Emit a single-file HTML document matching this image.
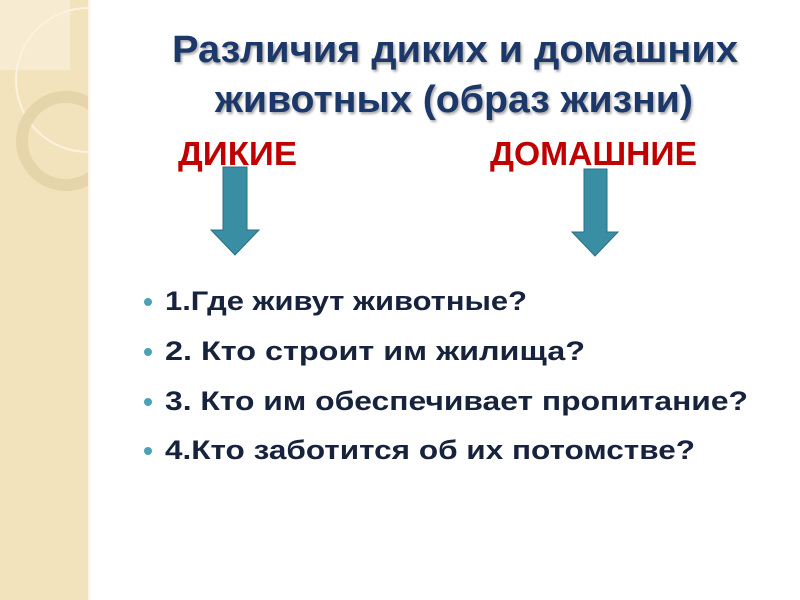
<!DOCTYPE html>
<html><head><meta charset="utf-8"><style>
html,body{margin:0;padding:0;background:#fff;}
svg{display:block;}
</style></head><body>
<svg width="800" height="600" viewBox="0 0 800 600" xmlns="http://www.w3.org/2000/svg" font-family="Liberation Sans, DejaVu Sans, sans-serif">
<defs>
<filter id="sh" x="-5%" y="-5%" width="110%" height="120%"><feDropShadow dx="1.5" dy="2" stdDeviation="1.2" flood-color="#000" flood-opacity="0.35"/></filter>
<clipPath id="cp"><rect x="0" y="0" width="88" height="600"/></clipPath>
</defs>
<rect x="0" y="0" width="88" height="600" fill="#f3e3bc"/>
<g clip-path="url(#cp)">
<rect x="0" y="0" width="70" height="70" fill="#f7ecd2"/>
<circle cx="88" cy="80" r="72" fill="none" stroke="#fbf3df" stroke-width="2"/>
<circle cx="66" cy="141" r="44" fill="none" stroke="#e6d5ab" stroke-width="12"/>
</g>
<rect x="88" y="0" width="2" height="600" fill="#fbf4e3"/>
<g font-weight="bold" fill="#1f3868" font-size="38" filter="url(#sh)">
<text x="172" y="62" textLength="566" lengthAdjust="spacingAndGlyphs">Различия диких и домашних</text>
<text x="215" y="112" textLength="478" lengthAdjust="spacingAndGlyphs">животных (образ жизни)</text>
</g>
<g font-weight="bold" fill="#c00000" font-size="33">
<text x="178" y="165" textLength="119" lengthAdjust="spacingAndGlyphs">ДИКИЕ</text>
<text x="490" y="165" textLength="207" lengthAdjust="spacingAndGlyphs">ДОМАШНИЕ</text>
</g>
<g fill="#3a8ea3" stroke="#2c6f80" stroke-width="1">
<polygon points="223,167 247,167 247,230 259,230 235,255 211,230 223,230"/>
<polygon points="584,169 607,169 607,232 618,232 595,256 572,232 584,232"/>
</g>
<g fill="#4aa3b5">
<circle cx="148" cy="302" r="4"/><circle cx="148" cy="352" r="4"/><circle cx="148" cy="402" r="4"/><circle cx="148" cy="451" r="4"/>
</g>
<g font-weight="bold" fill="#17223d" font-size="27">
<text x="165" y="310" textLength="362" lengthAdjust="spacingAndGlyphs">1.Где живут животные?</text>
<text x="165" y="360" textLength="420" lengthAdjust="spacingAndGlyphs">2. Кто строит им жилища?</text>
<text x="165" y="410" textLength="583" lengthAdjust="spacingAndGlyphs">3. Кто им обеспечивает пропитание?</text>
<text x="165" y="459" textLength="530" lengthAdjust="spacingAndGlyphs">4.Кто заботится об их потомстве?</text>
</g>
</svg>
</body></html>
